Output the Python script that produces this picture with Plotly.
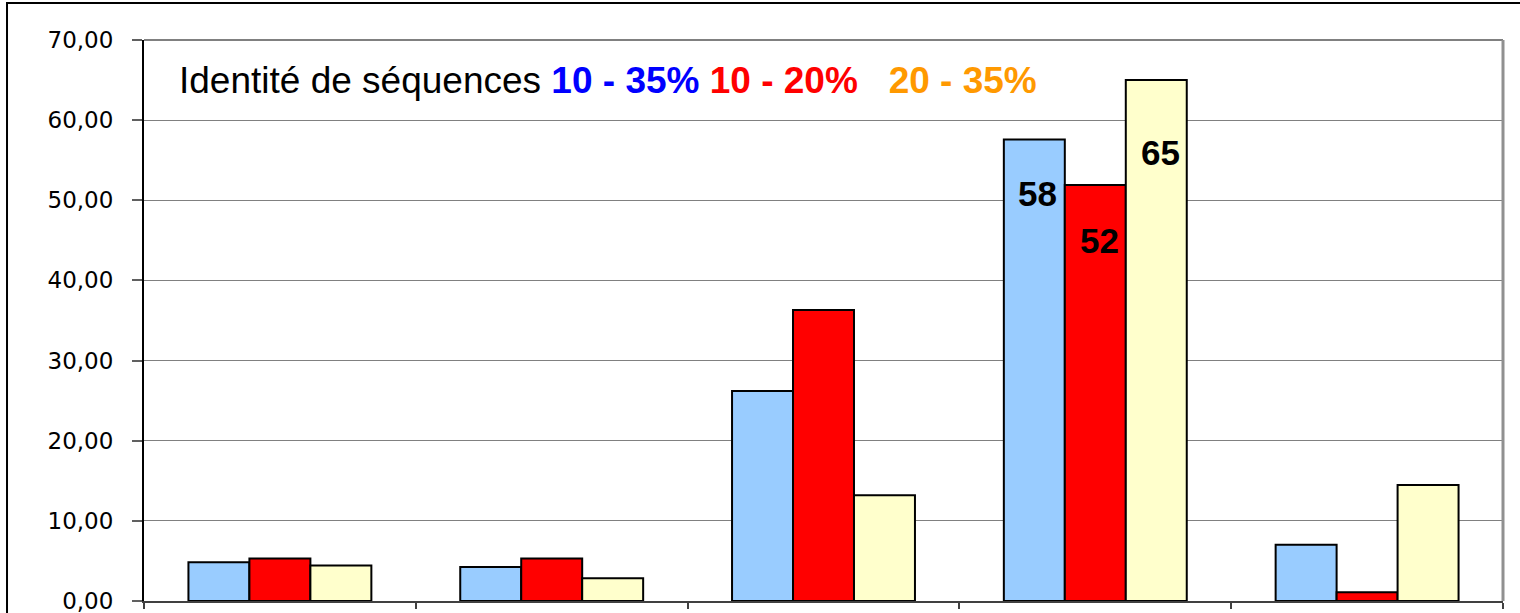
import plotly.graph_objects as go

# Classes (axis labels are not shown on the chart)
categories = ["Classe 1", "Classe 2", "Classe 3", "Classe 4", "Classe 5"]

# Percentage of pairs per class, for each sequence-identity range
serie_10_35 = [4.83, 4.24, 26.2, 57.6, 7.02]
serie_10_20 = [5.29, 5.29, 36.3, 51.9, 1.08]
serie_20_35 = [4.42, 2.83, 13.2, 65.0, 14.47]

series_names = ["10 - 35%", "10 - 20%", "20 - 35%"]
bar_colors = ["#99CCFF", "#FF0000", "#FFFFCC"]
text_colors = ["#0000FF", "#FF0000", "#FF9900"]

y_ticks = [0, 10, 20, 30, 40, 50, 60, 70]

# Values printed on the bars of the 4th class
labelled_class = 3
label_xshift = [-58, 4, 65]
label_yshift = [-54, -55, -72]

fig = go.Figure()
all_series = [serie_10_35, serie_10_20, serie_20_35]
for name, vals, col in zip(series_names, all_series, bar_colors):
    fig.add_trace(go.Bar(
        x=categories, y=vals, name=name,
        marker=dict(color=col, line=dict(color="#000000", width=2)),
        showlegend=False,
    ))

annotations = []
for vals, dx, dy in zip(all_series, label_xshift, label_yshift):
    v = vals[labelled_class]
    annotations.append(dict(
        x=categories[labelled_class], y=v, xref="x", yref="y",
        text=f"<b>{round(v):d}</b>", showarrow=False,
        xshift=dx, yshift=dy, yanchor="middle",
        font=dict(family="Liberation Sans, Arial", size=35, color="#000000"),
    ))

# Header line with coloured identity ranges
header = ("Identité de séquences "
          f"<span style='color:{text_colors[0]}'><b>{series_names[0]}</b></span> "
          f"<span style='color:{text_colors[1]}'><b>{series_names[1]}</b></span>"
          "&nbsp;&nbsp;&nbsp;"
          f"<span style='color:{text_colors[2]}'><b>{series_names[2]}</b></span>")
annotations.append(dict(
    x=0.0245, y=0.927, xref="paper", yref="paper", xanchor="left", yanchor="middle",
    text=header, showarrow=False,
    font=dict(family="Liberation Sans, Arial", size=37, color="#000000"),
))

shapes = [
    # outer frame of the chart object
    dict(type="rect", xref="paper", yref="paper", x0=-0.1008, x1=1.05, y0=-0.1, y1=1.066,
         line=dict(color="#000000", width=2), fillcolor="rgba(0,0,0,0)", layer="below"),
    # plot area border, top and right
    dict(type="line", xref="paper", yref="paper", x0=0, x1=1, y0=1, y1=1,
         line=dict(color="#808080", width=2)),
    dict(type="line", xref="paper", yref="paper", x0=1, x1=1, y0=0, y1=1,
         line=dict(color="#909090", width=3)),
]

fig.update_layout(
    width=1520, height=613,
    margin=dict(l=144, r=17, t=40, b=12, autoexpand=False),
    paper_bgcolor="#FFFFFF", plot_bgcolor="#FFFFFF",
    barmode="group", bargap=0.327, bargroupgap=0,
    separators=", ",
    annotations=annotations, shapes=shapes,
    font=dict(family="DejaVu Sans", color="#000000"),
)

fig.update_xaxes(
    showticklabels=False, ticks="outside", tickson="boundaries", ticklen=6,
    tickcolor="#404040", tickwidth=1.5, automargin=False,
    showline=True, linecolor="#404040", linewidth=2, showgrid=False,
)
fig.update_yaxes(
    range=[0, 70], tickvals=y_ticks, tickformat=".2f", automargin=False,
    ticks="outside", ticklen=10, tickcolor="#606060", tickwidth=1.5,
    ticklabelstandoff=14, ticklabeloverflow="allow",
    tickfont=dict(family="DejaVu Sans", size=23, color="#000000"),
    showline=True, linecolor="#000000", linewidth=2,
    showgrid=True, gridcolor="#808080", gridwidth=1, zeroline=False,
)

fig.write_html("out.html")
